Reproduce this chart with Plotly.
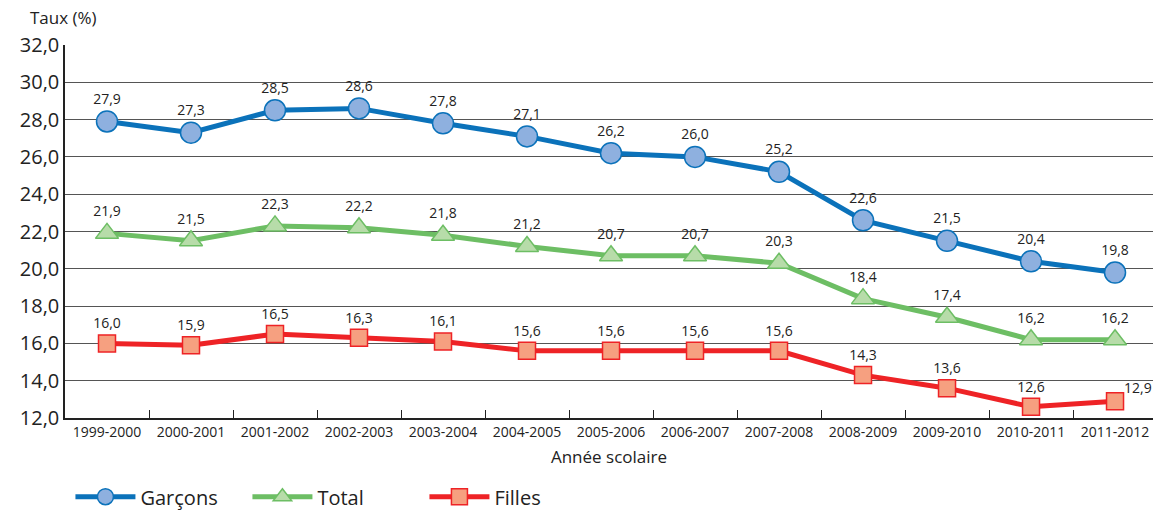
import plotly.graph_objects as go

years = ["1999-2000", "2000-2001", "2001-2002", "2002-2003", "2003-2004", "2004-2005",
         "2005-2006", "2006-2007", "2007-2008", "2008-2009", "2009-2010", "2010-2011", "2011-2012"]
garcons = [27.9, 27.3, 28.5, 28.6, 27.8, 27.1, 26.2, 26.0, 25.2, 22.6, 21.5, 20.4, 19.8]
total = [21.9, 21.5, 22.3, 22.2, 21.8, 21.2, 20.7, 20.7, 20.3, 18.4, 17.4, 16.2, 16.2]
filles = [16.0, 15.9, 16.5, 16.3, 16.1, 15.6, 15.6, 15.6, 15.6, 14.3, 13.6, 12.6, 12.9]
y_ticks = [12, 14, 16, 18, 20, 22, 24, 26, 28, 30, 32]

FONT = "Open Sans"

def fmt(v):
    return f"{v:.1f}".replace(".", ",")

fig = go.Figure()
annotations = []

series = [
    ("Garçons", garcons, "#0B72BA", "#8EB0DF", "circle", 21),
    ("Total", total, "#6DBE64", "#B7DCA9", "triangle-up", 20),
    ("Filles", filles, "#EE2326", "#F6A080", "square", 17),
]
for name, vals, lc, fc, sym, sz in series:
    texts = [fmt(v) for v in vals]
    if name == "Filles":
        texts[-1] = ""
        annotations.append(dict(text=fmt(vals[-1]), x=years[-1], y=vals[-1],
                                xref="x", yref="y", xanchor="left", yanchor="middle",
                                xshift=7, yshift=14, showarrow=False,
                                font=dict(family=FONT, size=14, color="#222")))
    fig.add_trace(go.Scatter(
        x=years, y=vals, name=name, mode="lines+markers+text",
        line=dict(color=lc, width=5),
        marker=dict(symbol=sym, size=sz, color=fc, line=dict(color=lc, width=1.5)),
        text=texts, textposition="top center",
        textfont=dict(family=FONT, size=14, color="#222"),
        cliponaxis=False,
    ))

annotations.append(dict(text="Taux (%)", xref="paper", yref="paper", x=-0.034, y=1.075,
                        xanchor="left", yanchor="middle", showarrow=False,
                        font=dict(family=FONT, size=17, color="#222")))

fig.update_layout(
    width=1153, height=511,
    margin=dict(l=65, r=0, t=45, b=93, autoexpand=False),
    plot_bgcolor="white", paper_bgcolor="white",
    font=dict(family=FONT, color="#222"),
    showlegend=True,
    legend=dict(orientation="h", x=0.005, xanchor="left", y=-0.211, yanchor="middle",
                font=dict(family=FONT, size=20, color="#222"), itemwidth=60,
                entrywidth=102, entrywidthmode="pixels", tracegroupgap=0),
    xaxis=dict(
        type="category", range=[-0.5, 12.452], showgrid=False, automargin=False,
        showline=True, linecolor="#222", linewidth=1.5,
        ticks="inside", tickson="boundaries", ticklen=8, tickcolor="#222",
        tickfont=dict(family=FONT, size=14, color="#222"),
        title=dict(text="Année scolaire", font=dict(family=FONT, size=17, color="#222"), standoff=12),
    ),
    yaxis=dict(
        range=[12, 32], tickvals=y_ticks, ticktext=[fmt(v) for v in y_ticks], automargin=False,
        showgrid=True, gridcolor="#555", gridwidth=1,
        showline=True, linecolor="#222", linewidth=1.5, zeroline=False,
        tickfont=dict(family=FONT, size=20, color="#222"), ticks="",
    ),
    annotations=annotations,
)

fig.write_html(
    "out.html",
    config={"displayModeBar": False},
    post_script="document.body.style.margin='0';document.documentElement.style.overflow='hidden';",
)
